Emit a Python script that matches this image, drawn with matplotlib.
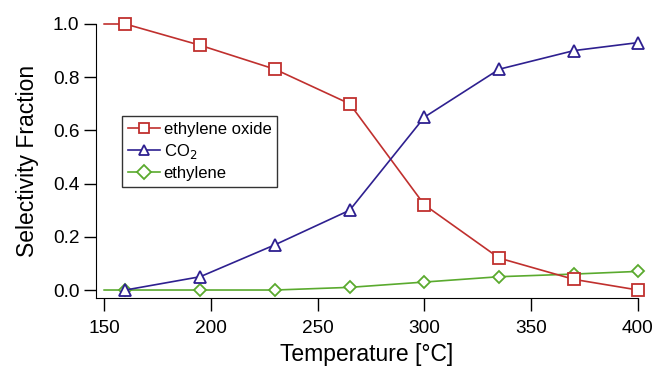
import matplotlib
matplotlib.use("Agg")
import matplotlib.pyplot as plt

plt.rcParams['font.family'] = ['Liberation Sans', 'DejaVu Sans']

temp_eo = [150, 160, 195, 230, 265, 300, 335, 370, 400]
eo = [1.0, 1.0, 0.92, 0.83, 0.70, 0.32, 0.12, 0.04, 0.0]
temp_co2 = [160, 195, 230, 265, 300, 335, 370, 400]
co2 = [0.0, 0.05, 0.17, 0.30, 0.65, 0.83, 0.90, 0.93]
temp_eth = [150, 160, 195, 230, 265, 300, 335, 370, 400]
eth = [0.0, 0.0, 0.0, 0.0, 0.01, 0.03, 0.05, 0.06, 0.07]
xticks = [150, 200, 250, 300, 350, 400]
yticks = [0.0, 0.2, 0.4, 0.6, 0.8, 1.0]

fig = plt.figure(figsize=(6.54, 3.72), dpi=100)
ax = fig.add_axes([96/654, 1-298/372, (638-96)/654, (298-24)/372])

red = '#c0302e'
blue = '#2e2090'
green = '#5aaa2e'

ax.plot(temp_eo, eo, color=red, lw=1.2, marker='s', ms=8.5, mfc='white', mew=1.3,
        markevery=list(range(1, len(temp_eo))), clip_on=False, label='ethylene oxide', zorder=3)
ax.plot(temp_co2, co2, color=blue, lw=1.2, marker='^', ms=8.5, mfc='white', mew=1.3,
        clip_on=False, label='CO$_2$', zorder=3)
ax.plot(temp_eth, eth, color=green, lw=1.2, marker='D', ms=6.5, mfc='white', mew=1.3,
        markevery=list(range(1, len(temp_eth))), clip_on=False, label='ethylene', zorder=2)

ax.set_xlim(146.2, 400)
ax.set_ylim(-0.03, 1.0)
ax.set_xticks(xticks)
ax.set_yticks(yticks)
ax.set_yticklabels([f'{v:.1f}' for v in yticks])
ax.spines['top'].set_visible(False)
ax.spines['right'].set_visible(False)
ax.tick_params(axis='both', length=9, width=1, labelsize=13.7)
ax.tick_params(axis='x', pad=7)
ax.tick_params(axis='y', pad=3)
ax.set_xlabel('Temperature [°C]', fontsize=16.5, labelpad=4)
ax.set_ylabel('Selectivity Fraction', fontsize=16.5, labelpad=10)

leg = ax.legend(loc='upper left', bbox_to_anchor=((122-96)/542, (298-116)/274),
                fontsize=12, frameon=True, fancybox=False, edgecolor='black',
                handlelength=1.9, borderpad=0.35, labelspacing=0.3, handletextpad=0.25,
                borderaxespad=0)
leg.get_frame().set_linewidth(1.0)
for h in leg.legend_handles:
    h.set_markersize(7)

fig.savefig('out.png', dpi=100)
